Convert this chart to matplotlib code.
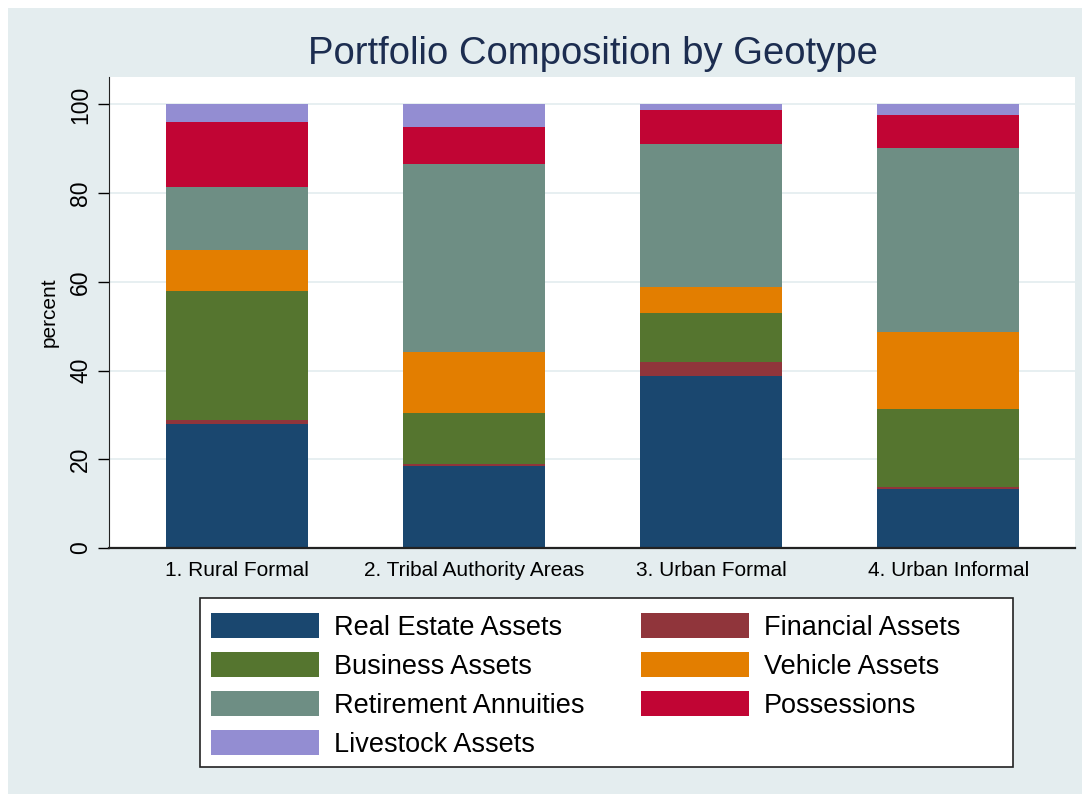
import matplotlib.pyplot as plt
from matplotlib.patches import Rectangle, Patch
import numpy as np

# Portfolio shares (percent) per geotype
geotypes = ['1. Rural Formal', '2. Tribal Authority Areas', '3. Urban Formal', '4. Urban Informal']
real_estate = [28.0, 18.4, 38.7, 13.2]
financial = [0.9, 0.6, 3.3, 0.6]
business = [29.0, 11.5, 11.1, 17.6]
vehicle = [9.3, 13.6, 5.7, 17.3]
retirement = [14.1, 42.5, 32.2, 41.5]
possessions = [14.8, 8.4, 7.8, 7.4]
livestock = [3.9, 5.0, 1.2, 2.4]

labels = ['Real Estate Assets', 'Financial Assets', 'Business Assets', 'Vehicle Assets',
          'Retirement Annuities', 'Possessions', 'Livestock Assets']
colors = ['#1a476f', '#90353b', '#55752f', '#e37e00', '#6e8e84', '#c10534', '#938dd2']
series = [real_estate, financial, business, vehicle, retirement, possessions, livestock]

plt.rcParams['font.family'] = ['Liberation Sans', 'DejaVu Sans']

W, H = 1087, 794
fig = plt.figure(figsize=(W / 100, H / 100), dpi=100, facecolor='white')
# light bluish-gray graph region, drawn beneath the axes
fig.patches.append(Rectangle((8 / W, 0), 1074 / W, 786 / H, transform=fig.transFigure,
                             facecolor='#e4edef', edgecolor='none', zorder=-10))

ax = fig.add_axes([109 / W, 246 / H, 966 / W, 471 / H])
ax.set_facecolor('white')

x = np.arange(1, len(geotypes) + 1)
bottom = np.zeros(len(geotypes))
for vals, lab, col in zip(series, labels, colors):
    ax.bar(x, vals, width=0.6, bottom=bottom, color=col, label=lab, zorder=2, linewidth=0)
    bottom += np.array(vals)

ax.set_xlim(0.46, 4.535)
ax.set_ylim(0, 106.2)
ax.set_yticks([0, 20, 40, 60, 80, 100])
ax.yaxis.grid(True, color='#e3ecef', linewidth=1.2, zorder=0)
ax.set_axisbelow(True)
ax.set_xticks(x)
ax.set_xticklabels(geotypes, fontsize=15)
ax.tick_params(axis='x', length=0, pad=9)
ax.tick_params(axis='y', labelsize=16.5, length=8, width=1, labelrotation=90, pad=4)
for lbl in ax.get_yticklabels():
    lbl.set_va('center')
ax.set_ylabel('percent', fontsize=15, labelpad=8)

for side in ['top', 'right']:
    ax.spines[side].set_visible(False)
ax.spines['left'].set_color('#222222')
ax.spines['bottom'].set_color('#222222')
ax.spines['bottom'].set_linewidth(1.6)

fig.text(593 / W, 740 / H, 'Portfolio Composition by Geotype', ha='center', va='center',
         fontsize=27.5, color='#1c2d50')

# legend box drawn by hand (Stata leaves extra room on the right)
fig.patches.append(Rectangle((200 / W, (H - 767) / H), 813 / W, 169 / H, transform=fig.transFigure,
                             facecolor='white', edgecolor='#222222', linewidth=1.2, zorder=1))

# legend ordered so that columns match the reference layout
order = [0, 2, 4, 6, 1, 3, 5]
handles = [Patch(facecolor=colors[i], edgecolor='none') for i in order]
leg = fig.legend(handles, [labels[i] for i in order], ncol=2, loc='upper left',
                 bbox_to_anchor=(211 / W, (H - 613) / H), fontsize=19.5, frameon=False,
                 handlelength=4.0, handleheight=1.05, handletextpad=0.55, columnspacing=2.07,
                 labelspacing=0.41, borderpad=0, borderaxespad=0)
leg.set_zorder(2)

fig.savefig('out.png', dpi=100, facecolor='white')
